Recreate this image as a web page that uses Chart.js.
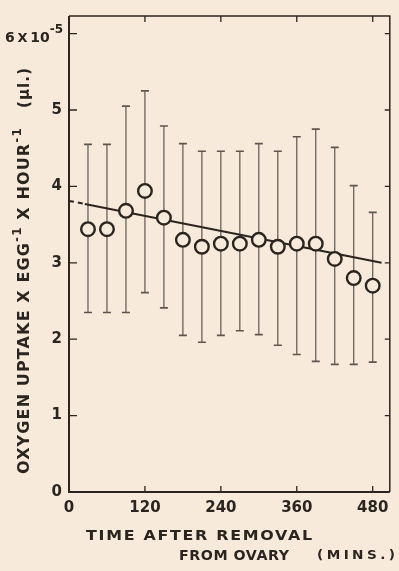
<!DOCTYPE html>
<html>
<head>
<meta charset="utf-8">
<script src="https://cdn.jsdelivr.net/npm/chart.js@4.4.1/dist/chart.umd.min.js"></script>
<style>
html, body { margin: 0; padding: 0; background: #f8eada; }
#wrap { width: 399px; height: 571px; position: relative; }
</style>
</head>
<body>
<div id="wrap"><canvas id="graph"></canvas></div>
<script>
// minutes after removal from ovary
const minutes = [30, 60, 90, 120, 150, 180, 210, 240, 270, 300, 330, 360, 390, 420, 450, 480];
// oxygen uptake x 10^-5 ul per egg per hour
const uptake = [3.44, 3.44, 3.68, 3.94, 3.59, 3.30, 3.21, 3.25, 3.25, 3.30, 3.21, 3.25, 3.25, 3.05, 2.80, 2.70];
const upper  = [4.55, 4.55, 5.05, 5.25, 4.79, 4.56, 4.46, 4.46, 4.46, 4.56, 4.46, 4.65, 4.75, 4.51, 4.01, 3.66];
const lower  = [2.35, 2.35, 2.35, 2.61, 2.41, 2.05, 1.96, 2.05, 2.11, 2.06, 1.92, 1.80, 1.71, 1.67, 1.67, 1.70];
// regression line, dashed where extrapolated
const fitDashed = [{x: 0, y: 3.81}, {x: 25, y: 3.77}];
const fitSolid  = [{x: 25, y: 3.77}, {x: 494, y: 3.00}];
const xTicks = [0, 120, 240, 360, 480];
const yTicks = [0, 1, 2, 3, 4, 5, 6];

const paper = '#f8eada';
const ink = '#2a2521';
const barInk = '#5d5650';
const font = '"DejaVu Sans", sans-serif';

// draws a row of text pieces [text, size, rise] across a given width.
// with a fixed letter spacing the row is stretched, otherwise the spacing is fitted
function drawRuns(ctx, runs, x, y, width, spacing) {
    let raw = 0, chars = 0;
    runs.forEach(r => {
        ctx.font = `bold ${r[1]}px ${font}`;
        ctx.letterSpacing = '0px';
        raw += ctx.measureText(r[0]).width;
        chars += r[0].length;
    });
    let sp = spacing, sx = 1;
    if (spacing === undefined) sp = (width - raw) / (chars - 1);
    else sx = width / (raw + sp * (chars - 1));
    ctx.save();
    ctx.translate(x, y);
    ctx.scale(sx, 1);
    ctx.textBaseline = 'middle';
    ctx.textAlign = 'left';
    ctx.fillStyle = ink;
    let cx = 0;
    runs.forEach(r => {
        ctx.font = `bold ${r[1]}px ${font}`;
        ctx.letterSpacing = sp + 'px';
        ctx.fillText(r[0], cx, r[2]);
        cx += ctx.measureText(r[0]).width;
    });
    ctx.restore();
}

const decor = {
    id: 'decor',
    beforeDraw(chart) {
        const ctx = chart.ctx;
        ctx.save();
        ctx.fillStyle = paper;
        ctx.fillRect(0, 0, chart.width, chart.height);
        ctx.restore();
    },
    beforeDatasetsDraw(chart) {
        const ctx = chart.ctx;
        const xs = chart.scales.x, ys = chart.scales.y;
        ctx.save();
        ctx.strokeStyle = barInk;
        minutes.forEach((m, i) => {
            const px = xs.getPixelForValue(m);
            const top = ys.getPixelForValue(upper[i]);
            const bot = ys.getPixelForValue(lower[i]);
            ctx.lineWidth = 1.2;
            ctx.beginPath();
            ctx.moveTo(px, top);
            ctx.lineTo(px, bot);
            ctx.stroke();
            ctx.lineWidth = 1.6;
            ctx.beginPath();
            ctx.moveTo(px - 4, top); ctx.lineTo(px + 4, top);
            ctx.moveTo(px - 4, bot); ctx.lineTo(px + 4, bot);
            ctx.stroke();
        });
        ctx.restore();
    },
    afterDraw(chart) {
        const ctx = chart.ctx;
        const a = chart.chartArea;
        const xs = chart.scales.x, ys = chart.scales.y;
        ctx.save();
        ctx.strokeStyle = ink;
        // frame
        ctx.lineWidth = 1.5;
        ctx.beginPath();
        ctx.moveTo(a.left, a.top); ctx.lineTo(a.right, a.top); ctx.lineTo(a.right, a.bottom);
        ctx.stroke();
        ctx.lineWidth = 2;
        ctx.beginPath();
        ctx.moveTo(a.left, a.top); ctx.lineTo(a.left, a.bottom); ctx.lineTo(a.right, a.bottom);
        ctx.stroke();
        // inner ticks
        ctx.lineWidth = 1.3;
        ctx.beginPath();
        xTicks.slice(1).forEach(v => {
            const px = xs.getPixelForValue(v);
            ctx.moveTo(px, a.bottom); ctx.lineTo(px, a.bottom - 6);
            ctx.moveTo(px, a.top); ctx.lineTo(px, a.top + 6);
        });
        yTicks.slice(1).forEach(v => {
            const py = ys.getPixelForValue(v);
            ctx.moveTo(a.left, py); ctx.lineTo(a.left + 8, py);
            ctx.moveTo(a.right, py); ctx.lineTo(a.right - 5, py);
        });
        ctx.stroke();

        // top y label with power of ten
        const y6 = ys.getPixelForValue(6);
        drawRuns(ctx, [['6\u2009', 14, 5], ['X', 13, 5], ['\u200910', 14, 5], ['-5', 12, -4]], 5, y6, 58);

        // x title
        drawRuns(ctx, [['TIME AFTER REMOVAL', 14, 0]], 86, 536, 226, 1.5);
        drawRuns(ctx, [['FROM OVARY', 14, 0]], 179, 556, 110, 0.5);
        drawRuns(ctx, [['(MINS.)', 12, 0]], 317, 556, 78, 3);

        // y title, rotated
        ctx.translate(25, 474);
        ctx.rotate(-Math.PI / 2);
        drawRuns(ctx, [
            ['OXYGEN UPTAKE X EGG', 16, 0], ['-1', 12, -7],
            [' X HOUR', 16, 0], ['-1', 12, -7],
            ['   (\u00b5l.)', 15, 0]
        ], 0, 0, 406);
        ctx.restore();
    }
};

new Chart(document.getElementById('graph'), {
    type: 'scatter',
    data: {
        datasets: [{
            data: minutes.map((m, i) => ({x: m, y: uptake[i]})),
            pointRadius: 6.8,
            pointBorderWidth: 2.4,
            pointBorderColor: ink,
            pointBackgroundColor: paper,
            order: 0
        },
        {
            data: fitDashed,
            showLine: true,
            borderColor: ink,
            borderWidth: 2,
            borderDash: [5, 4],
            pointRadius: 0,
            order: 1
        },
        {
            data: fitSolid,
            showLine: true,
            borderColor: ink,
            borderWidth: 2,
            pointRadius: 0,
            order: 1
        }]
    },
    options: {
        responsive: true,
        maintainAspectRatio: false,
        animation: false,
        devicePixelRatio: 1,
        layout: { padding: { top: 13, right: 4, left: 0, bottom: 0 } },
        plugins: { legend: { display: false }, tooltip: { enabled: false } },
        scales: {
            x: {
                min: 0, max: 507,
                afterBuildTicks: s => { s.ticks = xTicks.map(v => ({value: v})); },
                afterFit: s => { s.height = 79; },
                grid: { display: false, drawTicks: false },
                border: { display: false },
                ticks: { color: ink, padding: 7, maxRotation: 0, font: { family: font, size: 15, weight: 'bold' } }
            },
            y: {
                min: 0, max: 6.23,
                afterBuildTicks: s => { s.ticks = yTicks.map(v => ({value: v})); },
                afterFit: s => { s.width = 69; },
                grid: { display: false, drawTicks: false },
                border: { display: false },
                ticks: {
                    color: ink, padding: 7,
                    font: { family: font, size: 15, weight: 'bold' },
                    callback: v => v === 6 ? '' : String(v)
                }
            }
        }
    },
    plugins: [decor]
});
</script>
</body>
</html>
